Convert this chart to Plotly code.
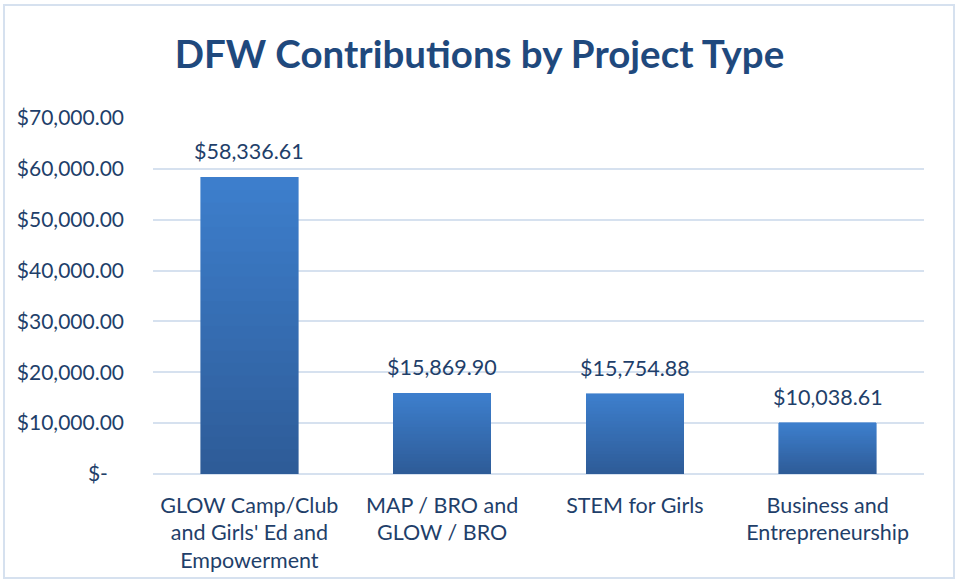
import plotly.graph_objects as go

categories = ["GLOW Camp/Club<br>and Girls' Ed and<br>Empowerment",
              "MAP / BRO and<br>GLOW / BRO",
              "STEM for Girls",
              "Business and<br>Entrepreneurship"]
values = [58336.61, 15869.90, 15754.88, 10038.61]
value_labels = ["$58,336.61", "$15,869.90", "$15,754.88", "$10,038.61"]
tick_vals = [0, 10000, 20000, 30000, 40000, 50000, 60000, 70000]
tick_text = ["$-\u00a0\u00a0\u00a0", "$10,000.00", "$20,000.00", "$30,000.00", "$40,000.00",
             "$50,000.00", "$60,000.00", "$70,000.00"]

FONT = "Lato"
TXT = "#1F3F6A"

# gradient: stack N slices per bar, dark at bottom to light at top
N = 24
bottom = (46, 92, 152)
top = (61, 126, 204)

fig = go.Figure()
for i in range(N):
    t = i / (N - 1)
    c = tuple(round(bottom[k] + (top[k] - bottom[k]) * t) for k in range(3))
    fig.add_trace(go.Bar(
        x=categories, y=[v / N for v in values],
        marker=dict(color="rgb(%d,%d,%d)" % c, line=dict(width=0.6, color="rgb(%d,%d,%d)" % c)),
        showlegend=False, hoverinfo="skip"))

for cat, v, lab in zip(categories, values, value_labels):
    fig.add_annotation(x=cat, y=v, text=lab, showarrow=False, yanchor="bottom", yshift=11,
                       font=dict(family=FONT, size=21.5, color=TXT))

fig.update_layout(
    barmode="stack", bargap=0.495,
    width=959, height=581,
    margin=dict(l=153, r=35, t=118, b=107, autoexpand=False),
    paper_bgcolor="white", plot_bgcolor="white",
    title=dict(text="<b>DFW Contributions by Project Type</b>", x=0.5, xanchor="center",
               y=1 - 55 / 581, yanchor="middle",
               font=dict(family=FONT, size=38.5, color="#1F497D")),
    font=dict(family=FONT, size=21, color=TXT),
    xaxis=dict(showgrid=False, showline=False, ticks="", tickfont=dict(size=21.5, color=TXT),
               ticklabelstandoff=16, automargin=False),
    yaxis=dict(range=[0, 70000], tickvals=tick_vals, ticktext=tick_text,
               showgrid=True, gridcolor="#D6E1EF", gridwidth=2,
               zeroline=True, zerolinecolor="#D6E1EF", zerolinewidth=2,
               showline=False, ticks="", ticklabelstandoff=28, automargin=False,
               tickfont=dict(size=21, color=TXT)),
    shapes=[dict(type="rect", xref="paper", yref="paper",
                 x0=(4 - 153) / 771, x1=(954 - 153) / 771,
                 y0=(474 - 578) / 356, y1=(474 - 5) / 356,
                 line=dict(color="#D6E1EF", width=2), layer="below")],
)

fig.write_html("out.html", config={"displayModeBar": False},
               post_script="document.body.style.margin='0px';")
